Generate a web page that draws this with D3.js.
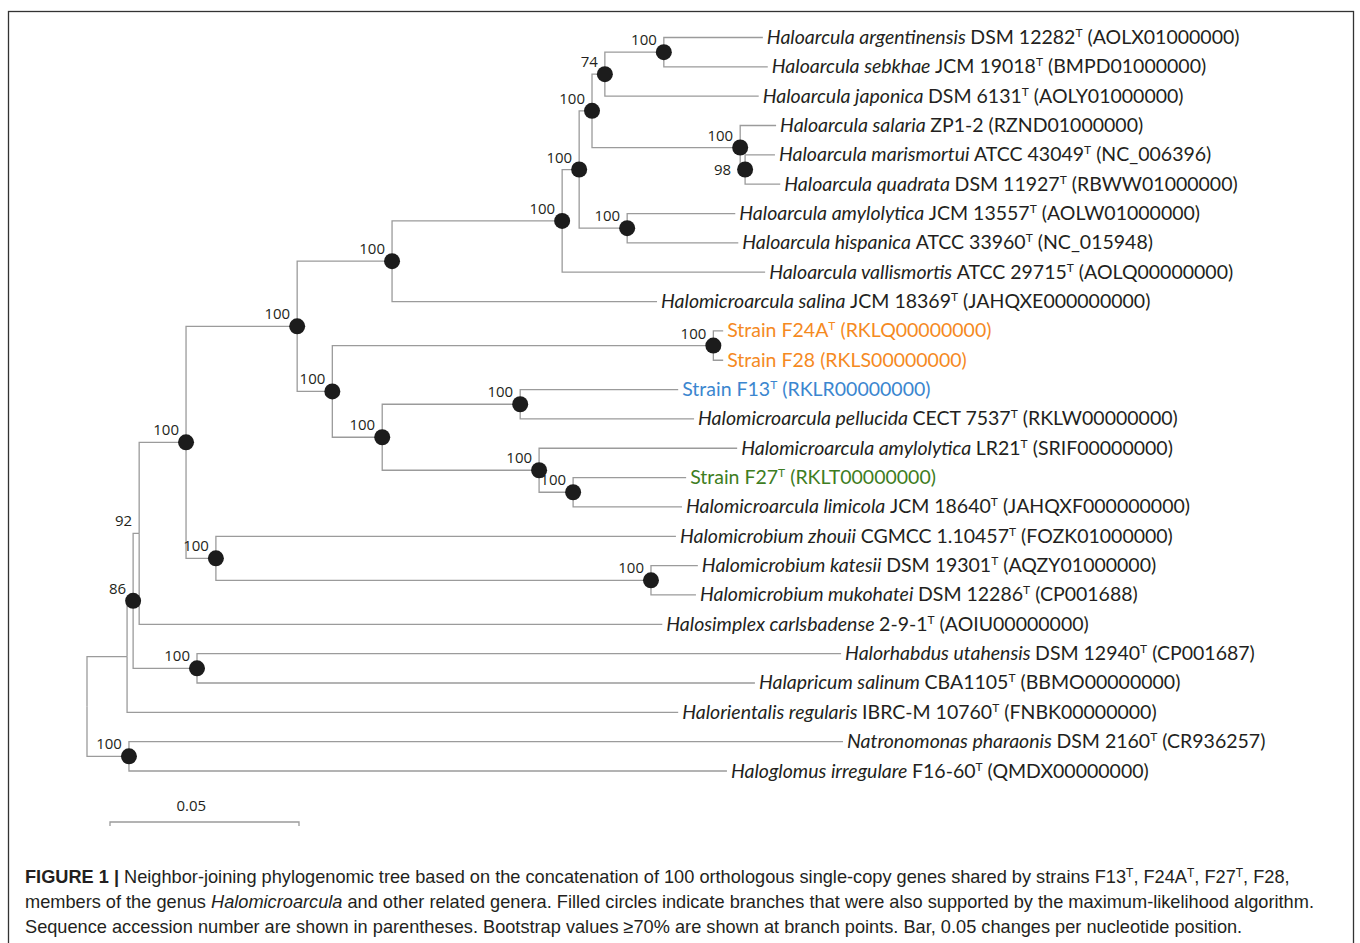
<!DOCTYPE html>
<html>
<head>
<meta charset="utf-8">
<script src="https://cdn.jsdelivr.net/npm/d3@7"></script>
<style>
  body { margin: 0; background: #fff; }
  svg text { fill: #231f20; }
</style>
</head>
<body>
<svg id="chart" width="1360" height="943"></svg>
<script>
// leaves, top to bottom
const accessions = ["AOLX01000000","BMPD01000000","AOLY01000000","RZND01000000","NC_006396","RBWW01000000",
  "AOLW01000000","NC_015948","AOLQ00000000","JAHQXE000000000","RKLQ00000000","RKLS00000000","RKLR00000000",
  "RKLW00000000","SRIF00000000","RKLT00000000","JAHQXF000000000","FOZK01000000","AQZY01000000","CP001688",
  "AOIU00000000","CP001687","BBMO00000000","FNBK00000000","CR936257","QMDX00000000"];
const taxa = ["Haloarcula argentinensis","Haloarcula sebkhae","Haloarcula japonica","Haloarcula salaria",
  "Haloarcula marismortui","Haloarcula quadrata","Haloarcula amylolytica","Haloarcula hispanica",
  "Haloarcula vallismortis","Halomicroarcula salina","","","","Halomicroarcula pellucida",
  "Halomicroarcula amylolytica","","Halomicroarcula limicola","Halomicrobium zhouii","Halomicrobium katesii",
  "Halomicrobium mukohatei","Halosimplex carlsbadense","Halorhabdus utahensis","Halapricum salinum",
  "Halorientalis regularis","Natronomonas pharaonis","Haloglomus irregulare"];
const strainCodes = ["DSM 12282","JCM 19018","DSM 6131","ZP1-2","ATCC 43049","DSM 11927","JCM 13557",
  "ATCC 33960","ATCC 29715","JCM 18369","Strain F24A","Strain F28","Strain F13","CECT 7537","LR21",
  "Strain F27","JCM 18640","CGMCC 1.10457","DSM 19301","DSM 12286","2-9-1","DSM 12940","CBA1105",
  "IBRC-M 10760","DSM 2160","F16-60"];
const typeStrain = [1,1,1,0,1,1,1,1,1,1,1,0,1,1,1,1,1,1,1,1,1,1,1,1,1,1];
const leafParents = ["nK","nK","nI","nJ","nL","nL","nH","nH","nE","nC","nM","nM","nO","nO","nP","nQ","nQ",
  "nHmb","nKat","nKat","n92","nHrh","nHrh","n1","nNat","nNat"];
const leafLengths = [0.0262,0.0275,0.0407,0.0095,0.0079,0.0093,0.0286,0.0294,0.0537,0.0701,0.0026,0.0026,
  0.0418,0.0460,0.0524,0.0299,0.0288,0.1217,0.0124,0.0119,0.1384,0.1704,0.1476,0.1458,0.1889,0.1582];

// internal nodes
const nodeIds = ["root","n1","n86","n92","nA","nB","nC","nE","nF","nG","nI","nK","nJ","nL","nH","nD","nM",
  "nN","nO","nP","nQ","nHmb","nKat","nHrh","nNat"];
const nodeParents = ["","root","n1","n86","n92","nA","nB","nC","nE","nF","nG","nI","nG","nJ","nF","nB","nD",
  "nD","nN","nN","nP","nA","nHmb","n86","root"];
const nodeLengths = [0,0.0106,0.0016,0.0016,0.0124,0.0294,0.0251,0.0450,0.0045,0.0034,0.0034,0.0156,0.0392,
  0.0013,0.0127,0.0093,0.1008,0.0132,0.0365,0.0415,0.0090,0.0079,0.1151,0.0169,0.0111];
const bootstraps = [null,null,86,92,100,100,100,100,100,100,74,100,100,98,100,100,100,100,100,100,100,100,100,100,100];
const mlSupported = [0,0,1,0,1,1,1,1,1,1,1,1,1,1,1,1,1,1,1,1,1,1,1,1,1];

const scaleBarValue = 0.05;

const strainColor = {
  "Strain F24A": "#f58a1f",
  "Strain F28": "#f58a1f",
  "Strain F13": "#3b86cf",
  "Strain F27": "#3e7d22"
};

const svg = d3.select("#chart");

// frame
svg.append("rect")
  .attr("x", 8.5).attr("y", 11.5)
  .attr("width", 1345).attr("height", 1000)
  .attr("fill", "none").attr("stroke", "#333").attr("stroke-width", 1.3);

const table = nodeIds.map((id, i) => ({
  id, parent: nodeParents[i] || null, len: nodeLengths[i], bs: bootstraps[i], ml: !!mlSupported[i], leaf: -1
})).concat(accessions.map((acc, i) => ({
  id: acc, parent: leafParents[i], len: leafLengths[i], bs: null, ml: false, leaf: i
})));

const root = d3.stratify().id(d => d.id).parentId(d => d.parent)(table);

// order children top-to-bottom by their first leaf
root.eachAfter(n => {
  n.first = n.children ? d3.min(n.children, c => c.first) : n.data.leaf;
});
root.sort((a, b) => a.first - b.first);

root.eachBefore(n => { n.dist = n.parent ? n.parent.dist + n.data.len : 0; });

const x = d3.scaleLinear().domain([0, scaleBarValue]).range([87, 276]);
const y = d3.scalePoint().domain(accessions).range([37.5, 771]);

root.eachAfter(n => {
  n.px = x(n.dist);
  if (n.children) {
    n.py = (n.children[0].py + n.children[n.children.length - 1].py) / 2;
  } else {
    n.py = y(n.data.id);
  }
});

// branches
svg.append("g")
  .selectAll("path")
  .data(root.links())
  .join("path")
  .attr("d", l => `M${l.source.px},${l.source.py}V${l.target.py}H${l.target.px}`)
  .attr("fill", "none")
  .attr("stroke", "#9b9b9b")
  .attr("stroke-width", 1.3);

const inner = root.descendants().filter(n => n.children);

// ML-supported nodes
svg.append("g")
  .selectAll("circle")
  .data(inner.filter(n => n.data.ml))
  .join("circle")
  .attr("cx", n => n.px).attr("cy", n => n.py)
  .attr("r", 8)
  .attr("fill", "#1c1c1c");

// bootstrap values (98 sits beside its node, below the parent's label)
svg.append("g")
  .selectAll("text")
  .data(inner.filter(n => n.data.bs != null))
  .join("text")
  .attr("x", n => n.data.id === "nL" ? n.px - 14 : n.px - 7)
  .attr("y", n => n.data.id === "nL" ? n.py + 5 : n.py - 7)
  .attr("text-anchor", "end")
  .style("font-family", "'Open Sans', sans-serif")
  .style("font-size", "15px")
  .text(n => n.data.bs);

// leaf labels
const leaves = root.leaves();
const labels = svg.append("g")
  .selectAll("text")
  .data(leaves)
  .join("text")
  .attr("x", n => n.px + 4)
  .attr("y", n => n.py + 6.5)
  .style("font-family", "Lato, sans-serif")
  .style("font-size", "19.5px");

labels.each(function (n) {
  const i = n.data.leaf;
  const t = d3.select(this);
  const col = strainColor[strainCodes[i]];
  if (col) t.style("fill", col);
  if (taxa[i]) {
    t.append("tspan").style("font-style", "italic").text(taxa[i] + " ");
  }
  t.append("tspan").text(strainCodes[i]);
  let shift = 0;
  if (typeStrain[i]) {
    t.append("tspan").attr("dy", -7).style("font-size", "12px").text("T");
    shift = 7;
  }
  t.append("tspan").attr("dy", shift).text(" (" + accessions[i] + ")");
});

// scale bar
const barX = 110, barY = 822;
const barW = x(scaleBarValue) - x(0);
svg.append("path")
  .attr("d", `M${barX},${barY + 4}V${barY}H${barX + barW}V${barY + 4}`)
  .attr("fill", "none").attr("stroke", "#9b9b9b").attr("stroke-width", 1.3);
svg.append("text")
  .attr("x", barX + barW * 0.43).attr("y", barY - 11)
  .attr("text-anchor", "middle")
  .style("font-family", "'Open Sans', sans-serif")
  .style("font-size", "15px")
  .text(scaleBarValue);

// caption
const cap = svg.append("g")
  .style("font-family", "'Liberation Sans', Arial, sans-serif")
  .style("font-size", "18.2px");

const l1 = cap.append("text").attr("x", 25).attr("y", 883);
l1.append("tspan").style("font-weight", "bold").text("FIGURE 1 | ");
l1.append("tspan").text("Neighbor-joining phylogenomic tree based on the concatenation of 100 orthologous single-copy genes shared by strains F13");
l1.append("tspan").attr("dy", -6).style("font-size", "12px").text("T");
l1.append("tspan").attr("dy", 6).text(", F24A");
l1.append("tspan").attr("dy", -6).style("font-size", "12px").text("T");
l1.append("tspan").attr("dy", 6).text(", F27");
l1.append("tspan").attr("dy", -6).style("font-size", "12px").text("T");
l1.append("tspan").attr("dy", 6).text(", F28,");

const l2 = cap.append("text").attr("x", 25).attr("y", 908);
l2.append("tspan").text("members of the genus ");
l2.append("tspan").style("font-style", "italic").text("Halomicroarcula");
l2.append("tspan").text(" and other related genera. Filled circles indicate branches that were also supported by the maximum-likelihood algorithm.");

cap.append("text").attr("x", 25).attr("y", 933)
  .text("Sequence accession number are shown in parentheses. Bootstrap values \u226570% are shown at branch points. Bar, 0.05 changes per nucleotide position.");
</script>
</body>
</html>
